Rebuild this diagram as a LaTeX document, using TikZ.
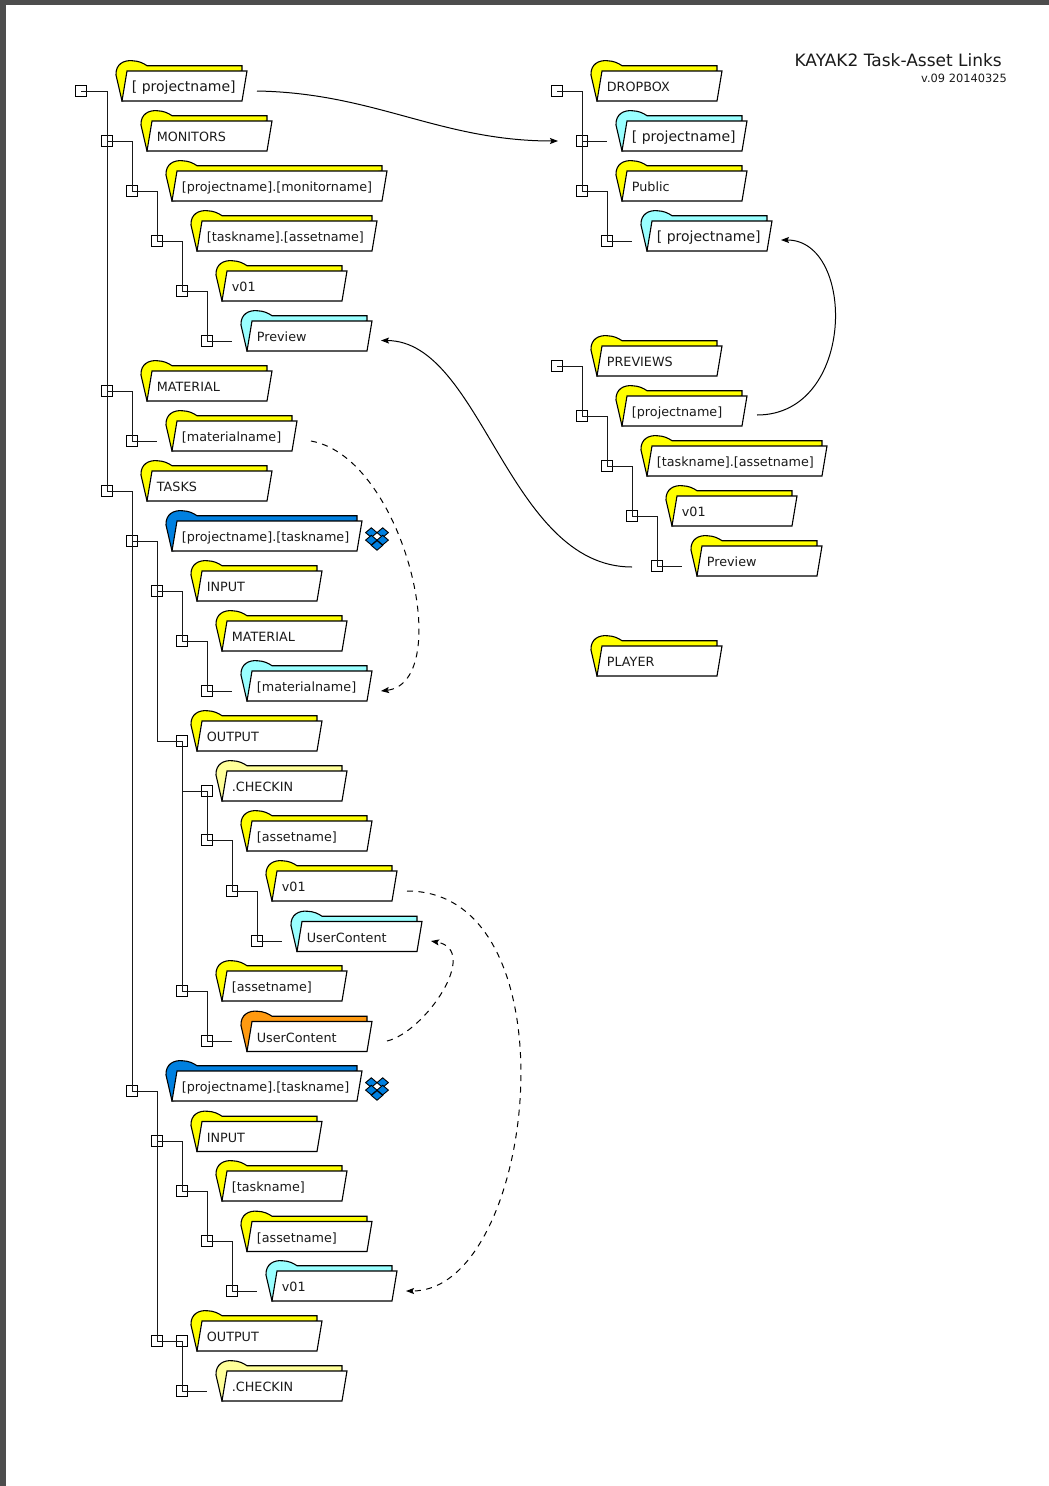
\documentclass[tikz,border=0pt]{standalone}
\usepackage{fontspec}
\setmainfont{DejaVu Sans}
\usetikzlibrary{arrows.meta}
\definecolor{fy}{HTML}{FFFF00}
\definecolor{fc}{HTML}{99FFFF}
\definecolor{fb}{HTML}{0080E0}
\definecolor{fo}{HTML}{FF9A10}
\definecolor{fp}{HTML}{FFFF99}
\definecolor{bar}{HTML}{4D4D4D}
\definecolor{ink}{HTML}{1A1A1A}
\tikzset{
  foldline/.style={draw=black,line width=1.1pt,line join=miter},
  jbox/.style={draw=black,line width=1pt,minimum size=10.2pt,inner sep=0pt,outer sep=0pt,fill=none},
  conn/.style={draw=black!90,line width=1pt},
  link/.style={draw=black,line width=1pt,-{Stealth[length=8pt,width=6pt,inset=1.5pt]}},
  dashlink/.style={link,dash pattern=on 6pt off 5.5pt},
  lab/.style={anchor=base west,inner sep=0pt,text=ink,font=\fontsize{12.75}{14}\selectfont},
  bigf/.style={font=\fontsize{14}{16}\selectfont},
  drop/.style={fill=fb,draw=black,line width=0.9pt,line join=miter}
}
% name, xl (bottom-left), y (centre), width, colour, text, label options
\newcommand{\fold}[7]{%
  \path[foldline,fill=#5] (#2,#3+15) -- (#2-6,#3-11)
    .. controls (#2-6.5,#3-22) and (#2+2,#3-26) .. (#2+10,#3-25.3)
    .. controls (#2+17,#3-25) and (#2+21,#3-23) .. (#2+25,#3-20.3)
    -- (#2+#4,#3-20.3) -- (#2+#4,#3-15) -- cycle;
  \path[foldline,fill=white] (#2+5,#3-15) -- (#2+#4+5,#3-15) -- (#2+#4,#3+15) -- (#2,#3+15) -- cycle;
  \node[lab,#7] (#1) at (#2+9.7,#3+5.5) {#6};
}
\newcommand{\dia}[2]{\path[drop] (#1-5.7,#2) -- (#1,#2-4.8) -- (#1+5.7,#2) -- (#1,#2+4.8) -- cycle;}
\newcommand{\dropbox}[2]{%
  \dia{#1-5.7}{#2-6}\dia{#1+5.7}{#2-6}\dia{#1-5.7}{#2+1.5}\dia{#1+5.7}{#2+1.5}\dia{#1}{#2+6.8}}
\begin{document}
\begin{tikzpicture}[x=1pt,y=-1pt]
\useasboundingbox (0,0) rectangle (1049,1486);
\fill[bar] (0,0) rectangle (1049,5);
\fill[bar] (0,0) rectangle (6,1486);

% title
\node[anchor=east,inner sep=0pt,text=ink,font=\fontsize{17}{20}\selectfont] (title) at (1002,60) {KAYAK2 Task-Asset Links};
\node[anchor=east,inner sep=0pt,text=ink,font=\fontsize{11.4}{13}\selectfont] (ver) at (1007,78) {v.09 20140325};

% left tree folders
\fold{root}{122}{86}{120}{fy}{[ projectname]}{bigf}
\fold{monitors}{147}{136}{120}{fy}{MONITORS}{}
\fold{pmon}{172}{186}{210}{fy}{[projectname].[monitorname]}{}
\fold{tasset}{197}{236}{175}{fy}{[taskname].[assetname]}{}
\fold{vone}{222}{286}{120}{fy}{v01}{}
\fold{prev}{247}{336}{120}{fc}{Preview}{}
\fold{material}{147}{386}{120}{fy}{MATERIAL}{}
\fold{matname}{172}{436}{120}{fy}{[materialname]}{}
\fold{tasks}{147}{486}{120}{fy}{TASKS}{}
\fold{ptaska}{172}{536}{185}{fb}{[projectname].[taskname]}{}
\fold{inputa}{197}{586}{120}{fy}{INPUT}{}
\fold{matb}{222}{636}{120}{fy}{MATERIAL}{}
\fold{matnameb}{247}{686}{120}{fc}{[materialname]}{}
\fold{outa}{197}{736}{120}{fy}{OUTPUT}{}
\fold{checka}{222}{786}{120}{fp}{.CHECKIN}{}
\fold{asseta}{247}{836}{120}{fy}{[assetname]}{}
\fold{vonea}{272}{886}{120}{fy}{v01}{}
\fold{uca}{297}{936.5}{120}{fc}{UserContent}{}
\fold{assetb}{222}{986}{120}{fy}{[assetname]}{}
\fold{ucb}{247}{1036.5}{120}{fo}{UserContent}{}
\fold{ptaskb}{172}{1086}{185}{fb}{[projectname].[taskname]}{}
\fold{inputb}{197}{1136.5}{120}{fy}{INPUT}{}
\fold{tnameb}{222}{1186}{120}{fy}{[taskname]}{}
\fold{assetc}{247}{1236.5}{120}{fy}{[assetname]}{}
\fold{voneb}{272}{1286}{120}{fc}{v01}{}
\fold{outb}{197}{1336}{120}{fy}{OUTPUT}{}
\fold{checkb}{222}{1386}{120}{fp}{.CHECKIN}{}

% right tree folders
\fold{dropb}{597}{86}{120}{fy}{DROPBOX}{}
\fold{rpa}{622}{136}{120}{fc}{[ projectname]}{bigf}
\fold{public}{622}{186}{120}{fy}{Public}{}
\fold{rpb}{647}{236}{120}{fc}{[ projectname]}{bigf}
\fold{previews}{597}{361}{120}{fy}{PREVIEWS}{}
\fold{rpc}{622}{411}{120}{fy}{[projectname]}{}
\fold{rta}{647}{461}{175}{fy}{[taskname].[assetname]}{}
\fold{rvone}{672}{511}{120}{fy}{v01}{}
\fold{rprev}{697}{561}{120}{fy}{Preview}{}
\fold{player}{597}{661}{120}{fy}{PLAYER}{}

\dropbox{377}{538.6}
\dropbox{377}{1088.6}

% junction boxes
\foreach \n/\x/\y in {
 a/81/91, b/107/141, c/132/191, d/157/241, e/182/291, f/207/341,
 g/107/391, h/132/441, i/107/491, j/132/541, k/157/591, l/182/641, m/207/691,
 n/182/741, o/207/791, p/207/840, q/232/891, r/257/941, s/182/991, t/207/1041,
 u/132/1091, v/157/1141, w/182/1191, x/207/1241, y/232/1291,
 z/157/1341, aa/182/1341, ab/182/1391,
 ra/557/91, rb/582/141, rc/582/191, rd/607/241, re/557/366, rf/582/416, rg/607/466, rh/632/516, ri/657/566}
 {\node[jbox] (\n) at (\x,\y) {};}

% free ends
\foreach \n/\x/\y in {ef/232/341, eh/157/441, em/232/691, er/282/941, et/232/1041, ey/257/1291, eab/207/1391,
  erb/607/141, erd/632/241, eri/682/566}
 {\coordinate (\n) at (\x,\y);}

% connectors, left
\path[conn] (a.center) -| (i.center);
\path[conn] (b.center) -| (c.center);
\path[conn] (c.center) -| (d.center);
\path[conn] (d.center) -| (e.center);
\path[conn] (e.center) -| (f.center);
\path[conn] (f.center) -- (ef);
\path[conn] (g.center) -| (h.center);
\path[conn] (h.center) -- (eh);
\path[conn] (i.center) -| (u.center);
\path[conn] (j.center) -| (k.center);
\path[conn] (k.center) |- (n.center);
\path[conn] (k.center) -| (l.center);
\path[conn] (l.center) -| (m.center);
\path[conn] (m.center) -- (em);
\path[conn] (n.center) -- (s.center);
\path[conn] (n.center |- o.center) -- (o.center);
\path[conn] (o.center) -- (p.center);
\path[conn] (p.center) -| (q.center);
\path[conn] (q.center) -| (r.center);
\path[conn] (r.center) -- (er);
\path[conn] (s.center) -| (t.center);
\path[conn] (t.center) -- (et);
\path[conn] (u.center) -| (z.center);
\path[conn] (v.center) -| (w.center);
\path[conn] (w.center) -| (x.center);
\path[conn] (x.center) -| (y.center);
\path[conn] (y.center) -- (ey);
\path[conn] (z.center) -- (aa.center);
\path[conn] (aa.center) -- (ab.center);
\path[conn] (ab.center) -- (eab);

% connectors, right
\path[conn] (ra.center) -| (rc.center);
\path[conn] (rb.center) -- (erb);
\path[conn] (rc.center) -| (rd.center);
\path[conn] (rd.center) -- (erd);
\path[conn] (re.center) -| (rf.center);
\path[conn] (rf.center) -| (rg.center);
\path[conn] (rg.center) -| (rh.center);
\path[conn] (rh.center) -| (ri.center);
\path[conn] (ri.center) -- (eri);

% long links
\coordinate (l1s) at (257,91);   \coordinate (l1e) at (558,141);
\coordinate (l2s) at (757,415);  \coordinate (l2e) at (781,240);
\coordinate (l3s) at (632,567);  \coordinate (l3e) at (381,340.5);
\coordinate (l4s) at (311,441);  \coordinate (l4e) at (381,691);
\coordinate (l5s) at (407,891);  \coordinate (l5e) at (406,1291);
\coordinate (l6s) at (387,1041); \coordinate (l6e) at (431,941);
\path[link] (l1s) .. controls (375,93) and (440,141) .. (l1e);
\path[link] (l2s) .. controls (856,415) and (856,240) .. (l2e);
\path[link] (l3s) .. controls (508,567) and (482,341) .. (l3e);
\path[dashlink] (l4s) .. controls (405,458) and (456,682) .. (l4e);
\path[dashlink] (l5s) .. controls (578,891) and (537,1291) .. (l5e);
\path[dashlink] (l6s) .. controls (425,1032) and (481,950) .. (l6e);
\end{tikzpicture}
\end{document}
